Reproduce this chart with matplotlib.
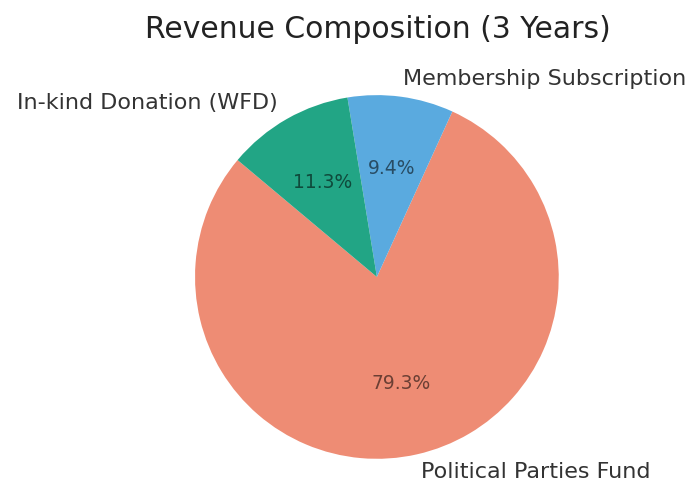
import matplotlib
matplotlib.use("Agg")
import matplotlib.pyplot as plt

labels = ["Political Parties Fund", "Membership Subscription", "In-kind Donation (WFD)"]
shares = [79.3, 9.4, 11.3]
colors = ["#EE8C74", "#5AAADF", "#22A585"]

fig = plt.figure(figsize=(6.96, 4.82), dpi=100)
ax = fig.add_axes([0.254, 0.0104, 0.575, 0.830])

wedges, texts, autotexts = ax.pie(shares, labels=labels, colors=colors,
                                  autopct="%1.1f%%", startangle=140,
                                  textprops={"fontsize": 16, "color": "#333333"})
for t in autotexts:
    t.set_color("black")
    t.set_alpha(0.55)
    t.set_fontsize(13.5)

ax.set_xlim(-1.1, 1.1)
ax.set_ylim(-1.1, 1.1)
ax.set_aspect("equal")

fig.text(378 / 696, 1 - 30 / 482, "Revenue Composition (3 Years)",
         ha="center", va="center", fontsize=21.5, color="#222222")

fig.savefig("out.png", dpi=100)
